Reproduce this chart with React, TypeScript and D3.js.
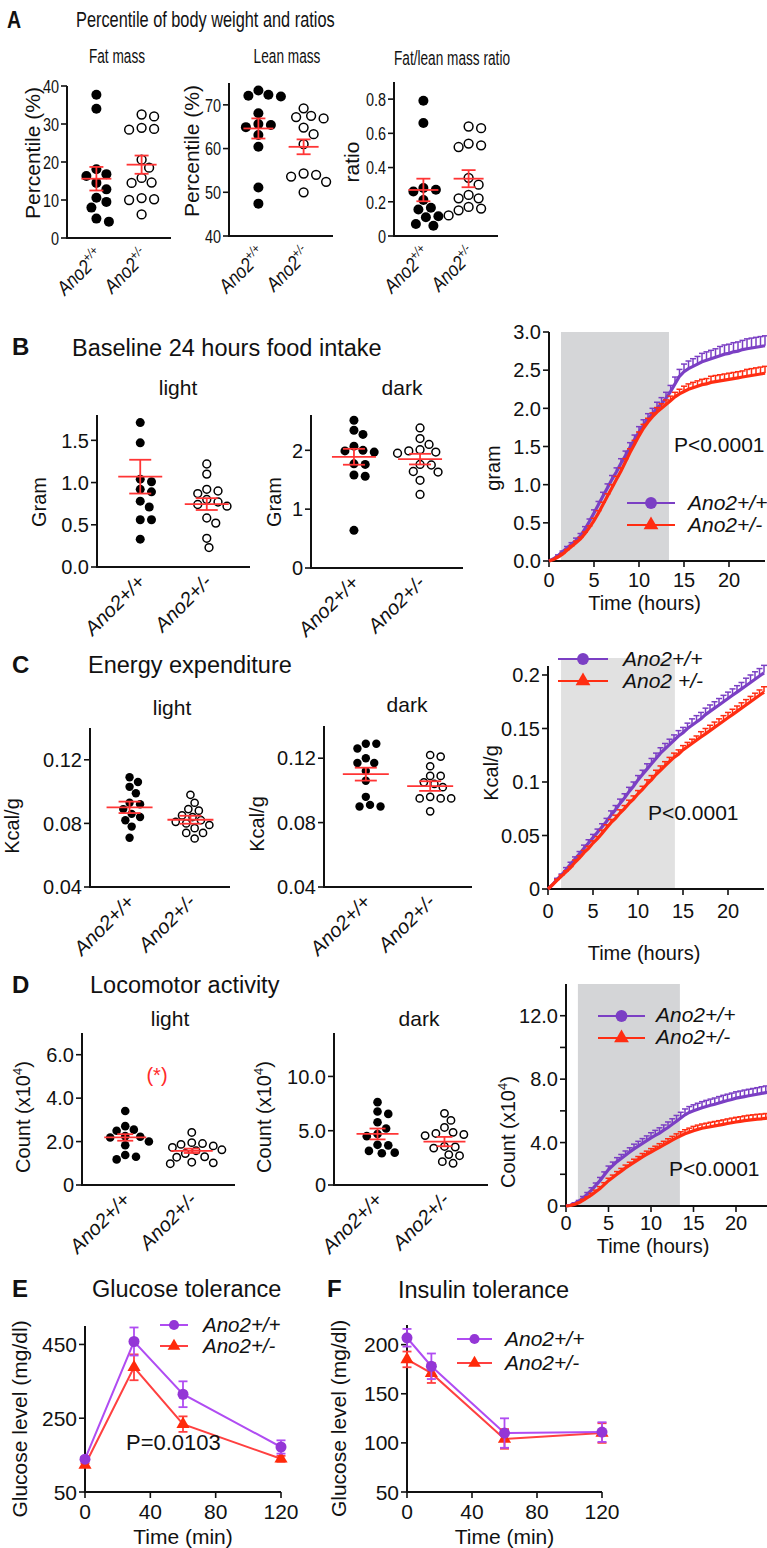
import React, { useEffect, useRef } from 'react';
import * as d3 from 'd3';

const GROUPS = ['Ano2+/+', 'Ano2+/-'];

// A - percentile of body weight
const fatWT = [37.7, 34.0, 18.1, 16.8, 16.3, 14.5, 12.8, 10.6, 9.5, 8.0, 5.1, 4.3];
const fatHet = [32.5, 32.0, 29.0, 28.7, 28.5, 20.6, 18.5, 15.8, 14.6, 14.5, 10.5, 10.2, 10.0, 6.2];
const fatStats = [[15.6, 3.1], [19.3, 2.4]];
const leanWT = [73.3, 72.3, 72.1, 71.9, 68.1, 65.6, 65.4, 64.9, 63.1, 60.4, 51.1, 47.4];
const leanHet = [69.2, 67.5, 67.2, 66.9, 64.8, 63.3, 61.0, 54.3, 54.0, 53.6, 52.4, 50.0];
const leanStats = [[64.6, 2.3], [60.4, 1.7]];
const ratioWT = [0.79, 0.66, 0.28, 0.27, 0.26, 0.21, 0.165, 0.155, 0.115, 0.11, 0.07, 0.06];
const ratioHet = [0.64, 0.63, 0.54, 0.53, 0.52, 0.34, 0.3, 0.24, 0.22, 0.22, 0.17, 0.16, 0.15, 0.12];
const ratioStats = [[0.269, 0.066], [0.335, 0.05]];

// B - food intake
const foodLightWT = [1.71, 1.47, 1.04, 1.01, 0.92, 0.89, 0.78, 0.71, 0.56, 0.56, 0.33];
const foodLightHet = [1.22, 1.1, 0.92, 0.9, 0.87, 0.8, 0.77, 0.74, 0.72, 0.58, 0.52, 0.34, 0.23];
const foodLightStats = [[1.07, 0.2], [0.745, 0.07]];
const foodDarkWT = [2.51, 2.34, 2.27, 2.07, 2.0, 1.99, 1.97, 1.77, 1.76, 1.58, 1.56, 0.64];
const foodDarkHet = [2.38, 2.2, 2.1, 2.01, 1.99, 1.97, 1.95, 1.76, 1.75, 1.64, 1.63, 1.49, 1.25];
const foodDarkStats = [[1.89, 0.135], [1.85, 0.09]];

// C - energy expenditure
const eeLightWT = [0.109, 0.106, 0.103, 0.099, 0.093, 0.092, 0.089, 0.086, 0.084, 0.082, 0.078, 0.071];
const eeLightHet = [0.098, 0.093, 0.089, 0.088, 0.085, 0.084, 0.082, 0.081, 0.08, 0.079, 0.077, 0.074, 0.074, 0.0705];
const eeLightStats = [[0.0901, 0.0036], [0.0823, 0.0025]];
const eeDarkWT = [0.129, 0.129, 0.126, 0.12, 0.117, 0.117, 0.112, 0.106, 0.096, 0.091, 0.09, 0.09];
const eeDarkHet = [0.122, 0.121, 0.115, 0.109, 0.109, 0.105, 0.104, 0.102, 0.096, 0.095, 0.095, 0.095, 0.087];
const eeDarkStats = [[0.1101, 0.004], [0.1027, 0.003]];

// D - locomotor activity (x10^4)
const locoLightWT = [3.41, 2.71, 2.55, 2.5, 2.25, 2.22, 2.19, 2.0, 1.83, 1.38, 1.3, 1.18];
const locoLightHet = [2.42, 1.95, 1.91, 1.87, 1.8, 1.73, 1.62, 1.58, 1.45, 1.3, 1.28, 1.05, 1.02, 0.98];
const locoLightStats = [[2.19, 0.15], [1.575, 0.1]];
const locoDarkWT = [7.63, 6.77, 6.55, 5.78, 5.2, 4.7, 4.5, 3.7, 3.65, 3.14, 2.92, 2.98];
const locoDarkHet = [6.6, 5.95, 5.3, 4.85, 4.75, 4.65, 4.55, 3.55, 3.5, 3.4, 2.8, 2.7, 2.15, 2.0];
const locoDarkStats = [[4.7, 0.5], [4.0, 0.43]];

// cumulative time courses, every half hour 0..24 h
const hours = d3.range(0, 24.5, 0.5);
const foodWT = [0, 0.03, 0.07, 0.12, 0.17, 0.22, 0.27, 0.33, 0.42, 0.52, 0.63, 0.74, 0.85, 0.96, 1.07, 1.17, 1.28, 1.38, 1.49, 1.59, 1.69, 1.78, 1.86, 1.93, 2.0, 2.06, 2.13, 2.22, 2.32, 2.42, 2.48, 2.52, 2.55, 2.58, 2.61, 2.63, 2.65, 2.67, 2.69, 2.71, 2.72, 2.74, 2.75, 2.77, 2.78, 2.79, 2.8, 2.81, 2.82];
const foodHet = [0, 0.02, 0.05, 0.09, 0.14, 0.19, 0.24, 0.29, 0.36, 0.44, 0.53, 0.63, 0.74, 0.85, 0.96, 1.07, 1.18, 1.3, 1.42, 1.53, 1.64, 1.74, 1.82, 1.89, 1.95, 2.0, 2.05, 2.1, 2.15, 2.19, 2.22, 2.25, 2.27, 2.29, 2.31, 2.32, 2.34, 2.35, 2.36, 2.37, 2.38, 2.39, 2.4, 2.41, 2.42, 2.43, 2.44, 2.45, 2.46];
// SEM, hourly
const foodWTsem = [0, 0.01, 0.02, 0.03, 0.03, 0.04, 0.05, 0.05, 0.06, 0.06, 0.07, 0.07, 0.08, 0.08, 0.09, 0.1, 0.1, 0.11, 0.11, 0.12, 0.12, 0.12, 0.13, 0.13, 0.13];
const foodHetSem = [0, 0.01, 0.01, 0.02, 0.02, 0.03, 0.03, 0.04, 0.04, 0.05, 0.05, 0.05, 0.06, 0.06, 0.06, 0.07, 0.07, 0.07, 0.08, 0.08, 0.08, 0.08, 0.09, 0.09, 0.09];
const eeWT = [0, 0.004, 0.009, 0.013, 0.018, 0.023, 0.028, 0.033, 0.038, 0.043, 0.048, 0.053, 0.058, 0.063, 0.069, 0.074, 0.08, 0.085, 0.091, 0.096, 0.102, 0.107, 0.112, 0.117, 0.122, 0.127, 0.131, 0.135, 0.139, 0.143, 0.146, 0.15, 0.153, 0.156, 0.159, 0.163, 0.166, 0.169, 0.172, 0.175, 0.178, 0.181, 0.184, 0.187, 0.19, 0.193, 0.196, 0.199, 0.202];
const eeHet = [0, 0.004, 0.008, 0.012, 0.016, 0.02, 0.025, 0.029, 0.034, 0.038, 0.043, 0.047, 0.052, 0.057, 0.062, 0.066, 0.071, 0.075, 0.08, 0.084, 0.089, 0.093, 0.098, 0.102, 0.107, 0.111, 0.115, 0.119, 0.123, 0.126, 0.13, 0.133, 0.136, 0.139, 0.142, 0.145, 0.148, 0.151, 0.154, 0.157, 0.16, 0.163, 0.166, 0.169, 0.172, 0.175, 0.178, 0.181, 0.184];
const eeWTsem = [0, 0.001, 0.002, 0.002, 0.003, 0.003, 0.003, 0.004, 0.004, 0.004, 0.004, 0.005, 0.005, 0.005, 0.005, 0.005, 0.006, 0.006, 0.006, 0.006, 0.006, 0.006, 0.007, 0.007, 0.007];
const eeHetSem = [0, 0.001, 0.001, 0.002, 0.002, 0.002, 0.003, 0.003, 0.003, 0.003, 0.003, 0.004, 0.004, 0.004, 0.004, 0.004, 0.004, 0.005, 0.005, 0.005, 0.005, 0.005, 0.005, 0.005, 0.005];
const locoWT = [0, 0.05, 0.15, 0.3, 0.5, 0.75, 1.0, 1.3, 1.6, 1.95, 2.3, 2.55, 2.8, 3.0, 3.2, 3.4, 3.6, 3.78, 3.95, 4.12, 4.3, 4.45, 4.6, 4.78, 4.95, 5.15, 5.35, 5.55, 5.75, 5.9, 6.0, 6.1, 6.2, 6.28, 6.35, 6.42, 6.5, 6.58, 6.65, 6.72, 6.8, 6.85, 6.9, 6.95, 7.0, 7.05, 7.1, 7.15, 7.2];
const locoHet = [0, 0.03, 0.1, 0.2, 0.35, 0.52, 0.7, 0.9, 1.1, 1.35, 1.6, 1.8, 2.0, 2.2, 2.4, 2.58, 2.75, 2.92, 3.1, 3.25, 3.4, 3.55, 3.7, 3.85, 4.0, 4.15, 4.3, 4.43, 4.55, 4.65, 4.75, 4.83, 4.9, 4.95, 5.0, 5.05, 5.1, 5.15, 5.2, 5.25, 5.3, 5.34, 5.38, 5.42, 5.45, 5.48, 5.5, 5.53, 5.55];
const locoWTsem = [0, 0.05, 0.1, 0.15, 0.2, 0.22, 0.25, 0.27, 0.3, 0.3, 0.32, 0.33, 0.35, 0.36, 0.37, 0.38, 0.38, 0.39, 0.4, 0.4, 0.4, 0.41, 0.41, 0.42, 0.42];
const locoHetSem = [0, 0.03, 0.06, 0.1, 0.12, 0.15, 0.17, 0.18, 0.2, 0.21, 0.22, 0.23, 0.24, 0.25, 0.26, 0.27, 0.27, 0.28, 0.28, 0.29, 0.29, 0.3, 0.3, 0.3, 0.3];

// dark phase (grey band), hours
const foodDarkPhase = [1.33, 13.33];
const eeDarkPhase = [1.45, 14.1];
const locoDarkPhase = [1.4, 13.4];

// E - glucose tolerance
const gttTime = [0, 30, 60, 120];
const gttWT = [139, 458, 315, 172];
const gttWTsem = [6, 38, 35, 18];
const gttHet = [123, 388, 234, 140];
const gttHetSem = [5, 35, 21, 8];

// F - insulin tolerance
const ittTime = [0, 15, 60, 120];
const ittWT = [207, 178, 110, 111];
const ittWTsem = [9, 13, 15, 10];
const ittHet = [185, 171, 104, 110];
const ittHetSem = [8, 10, 10, 10];

const FONT = '"Liberation Sans", Arial, Helvetica, sans-serif';
const PURPLE = '#7b3fc4';
const RED = '#ff2d12';
const VIOLET = '#b04cf2';
const VIOLET_M = '#9436d6';
const SEM_RED = '#ff3535';

const txt = (g: any, x: number, y: number, s: string, o: any = {}) => {
  let tf = `translate(${x},${y})`;
  if (o.rotate) tf += ` rotate(${o.rotate})`;
  if (o.sx) tf += ` scale(${o.sx},1)`;
  const t = g.append('text')
    .attr('transform', tf)
    .attr('font-family', FONT)
    .attr('font-size', o.size || 20)
    .attr('text-anchor', o.anchor || 'start')
    .attr('fill', o.fill || '#111');
  if (o.weight) t.attr('font-weight', o.weight);
  if (o.italic) t.attr('font-style', 'italic');
  if (o.dy) t.attr('dy', o.dy);
  if (o.sup) {
    t.append('tspan').text(s);
    t.append('tspan').attr('dy', -o.size * 0.4).attr('font-size', o.size * 0.65).text(o.sup);
    if (o.tail) t.append('tspan').attr('dy', o.size * 0.4).text(o.tail);
  } else {
    t.text(s);
  }
  return t;
};

const swarm = (ys: number[], cx: number, r: number) => {
  const placed: { x: number; y: number }[] = [];
  const minD = 2 * r + 0.5;
  ys.slice().sort((a, b) => a - b).forEach((py) => {
    for (let k = 0; k < 80; k++) {
      const off = k === 0 ? 0 : Math.ceil(k / 2) * r * 0.5 * (k % 2 ? 1 : -1);
      const px = cx + off;
      if (placed.every((p) => Math.hypot(p.x - px, p.y - py) >= minD)) {
        placed.push({ x: px, y: py });
        return;
      }
    }
  });
  return placed;
};

const scatter = (svg: any, c: any) => {
  const g = svg.append('g');
  const y = d3.scaleLinear().domain(c.domain).range([c.yBot, c.yTop]);
  const x = d3.scalePoint().domain(GROUPS).range([c.x0, c.x1]).padding(0.65);
  g.append('line').attr('x1', c.x0).attr('x2', c.x0).attr('y1', c.yTop).attr('y2', c.yBot + 1)
    .attr('stroke', '#111').attr('stroke-width', 2);
  g.append('line').attr('x1', c.x0 - 1).attr('x2', c.x1).attr('y1', c.yBot).attr('y2', c.yBot)
    .attr('stroke', '#111').attr('stroke-width', 2);
  c.ticks.forEach((t: number) => {
    g.append('line').attr('x1', c.x0 - 6).attr('x2', c.x0).attr('y1', y(t)).attr('y2', y(t))
      .attr('stroke', '#111').attr('stroke-width', 1.6);
    txt(g, c.x0 - 8, y(t), c.fmt(t), { size: c.fs, anchor: 'end', dy: '0.36em', sx: c.sx });
  });
  [c.wt, c.het].forEach((vals: number[], gi: number) => {
    const cx = x(GROUPS[gi]) as number;
    swarm(vals.map((v) => y(v)), cx, c.r).forEach((p) => {
      g.append('circle').attr('cx', p.x).attr('cy', p.y).attr('r', gi === 0 ? c.r : c.r - 0.6)
        .attr('fill', gi === 0 ? '#000' : '#fff').attr('stroke', '#000')
        .attr('stroke-width', gi === 0 ? 0 : 1.5);
    });
  });
  c.stats.forEach(([m, s]: number[], gi: number) => {
    const cx = x(GROUPS[gi]) as number;
    const st = (sel: any) => sel.attr('stroke', SEM_RED).attr('stroke-width', 1.8);
    st(g.append('line').attr('x1', cx - c.mw).attr('x2', cx + c.mw).attr('y1', y(m)).attr('y2', y(m)));
    st(g.append('line').attr('x1', cx).attr('x2', cx).attr('y1', y(m - s)).attr('y2', y(m + s)));
    [m - s, m + s].forEach((v) =>
      st(g.append('line').attr('x1', cx - c.cw).attr('x2', cx + c.cw).attr('y1', y(v)).attr('y2', y(v))));
  });
  GROUPS.forEach((gr, gi) => {
    const cx = x(gr) as number;
    if (c.supCats) {
      txt(g, cx + 8, c.yBot + 19, 'Ano2', { size: c.cfs, anchor: 'end', rotate: -45, italic: true, sx: c.csx, sup: gi === 0 ? '+/+' : '+/-' });
    } else {
      txt(g, cx + 6, c.yBot + 16, gr, { size: c.cfs, anchor: 'end', rotate: -45, italic: true });
    }
  });
  txt(g, c.titleX, c.titleY, c.title, { size: c.tfs, anchor: 'middle', sx: c.tsx });
  txt(g, c.ylX, c.ylY, c.ylabel, { size: c.yfs || c.fs, anchor: 'middle', rotate: -90, sup: c.ylSup, tail: c.ylTail });
  return { g, x, y };
};

const legend = (g: any, c: any) => {
  const items = [
    { label: c.labels[0], color: c.c1, mark: c.m1 || c.c1, sym: d3.symbolCircle, size: c.cs || 110 },
    { label: c.labels[1], color: c.c2, mark: c.m2 || c.c2, sym: d3.symbolTriangle, size: c.ts || 95 },
  ];
  items.forEach((it, i) => {
    const ly = c.ys[i];
    g.append('line').attr('x1', c.x0).attr('x2', c.x1).attr('y1', ly).attr('y2', ly)
      .attr('stroke', it.color).attr('stroke-width', 2);
    g.append('path').attr('d', d3.symbol(it.sym, it.size)())
      .attr('transform', `translate(${(c.x0 + c.x1) / 2},${ly})`).attr('fill', it.mark);
    txt(g, c.tx, ly + c.tdy, it.label, { size: c.fs, italic: true });
  });
};

const timeCourse = (svg: any, c: any) => {
  const g = svg.append('g');
  const x = d3.scaleLinear().domain([0, 24]).range([c.x0, c.x1]);
  const y = d3.scaleLinear().domain(c.domain).range([c.yBot, c.yTop]);
  g.append('rect').attr('x', x(c.band[0])).attr('width', x(c.band[1]) - x(c.band[0]))
    .attr('y', c.bandTop).attr('height', c.yBot - c.bandTop).attr('fill', c.bandColor);
  g.append('line').attr('x1', c.x0).attr('x2', c.x0).attr('y1', c.yTop).attr('y2', c.yBot + 1)
    .attr('stroke', '#111').attr('stroke-width', 2);
  g.append('line').attr('x1', c.x0 - 1).attr('x2', c.x1).attr('y1', c.yBot).attr('y2', c.yBot)
    .attr('stroke', '#111').attr('stroke-width', 2);
  c.yTicks.forEach((t: number) => {
    g.append('line').attr('x1', c.x0 - 6).attr('x2', c.x0).attr('y1', y(t)).attr('y2', y(t))
      .attr('stroke', '#111').attr('stroke-width', 1.6);
    const lab = c.yFmt(t);
    if (lab) txt(g, c.x0 - 8, y(t), lab, { size: c.fs, anchor: 'end', dy: '0.36em' });
  });
  [0, 5, 10, 15, 20].forEach((t) => {
    g.append('line').attr('x1', x(t)).attr('x2', x(t)).attr('y1', c.yBot).attr('y2', c.yBot + 6)
      .attr('stroke', '#111').attr('stroke-width', 1.6);
    txt(g, x(t), c.yBot + c.xlDy, String(t), { size: c.fs, anchor: 'middle' });
  });
  txt(g, (c.x0 + 680) / 2 + 30, c.yBot + c.xtDy, 'Time (hours)', { size: c.fs, anchor: 'middle' });
  txt(g, c.ylX, c.ylY, c.ylabel, { size: c.fs, anchor: 'middle', rotate: -90, sup: c.ylSup, tail: c.ylTail });

  c.series.forEach((s: any) => {
    const line = d3.line<number>().x((_, i) => x(hours[i])).y((d) => y(d));
    s.vals.forEach((v: number, i: number) => {
      const e = s.sem[Math.floor(i / 2)];
      if (!e) return;
      const px = x(hours[i]);
      g.append('line').attr('x1', px).attr('x2', px).attr('y1', y(v)).attr('y2', y(v + e))
        .attr('stroke', s.color).attr('stroke-width', 1.5);
      g.append('line').attr('x1', px - 3).attr('x2', px + 3).attr('y1', y(v + e)).attr('y2', y(v + e))
        .attr('stroke', s.color).attr('stroke-width', 1.5);
    });
    g.append('path').datum(s.vals).attr('d', line).attr('fill', 'none')
      .attr('stroke', s.color).attr('stroke-width', 3.2);
  });
  legend(g, c.legend);
  txt(g, c.pX, c.pY, 'P<0.0001', { size: 21 });
};

const tolerance = (svg: any, c: any) => {
  const g = svg.append('g');
  const x = d3.scaleLinear().domain([0, 120]).range([c.x0, c.x1]);
  const y = d3.scaleLinear().domain(c.domain).range([c.yBot, c.yTop]);
  g.append('line').attr('x1', c.x0).attr('x2', c.x0).attr('y1', c.yTop).attr('y2', c.yBot + 1)
    .attr('stroke', '#111').attr('stroke-width', 2);
  g.append('line').attr('x1', c.x0 - 1).attr('x2', c.x1).attr('y1', c.yBot).attr('y2', c.yBot)
    .attr('stroke', '#111').attr('stroke-width', 2);
  c.yTicks.forEach((t: number) => {
    g.append('line').attr('x1', c.x0 - 6).attr('x2', c.x0).attr('y1', y(t)).attr('y2', y(t))
      .attr('stroke', '#111').attr('stroke-width', 1.6);
    txt(g, c.x0 - 8, y(t), String(t), { size: 21, anchor: 'end', dy: '0.36em' });
  });
  [0, 40, 80, 120].forEach((t) => {
    g.append('line').attr('x1', x(t)).attr('x2', x(t)).attr('y1', c.yBot).attr('y2', c.yBot + 6)
      .attr('stroke', '#111').attr('stroke-width', 1.6);
    txt(g, x(t), c.yBot + 27, String(t), { size: 21, anchor: 'middle' });
  });
  txt(g, (c.x0 + c.x1) / 2, c.yBot + 52, 'Time (min)', { size: 21, anchor: 'middle' });
  txt(g, c.ylX, (c.yTop + c.yBot) / 2 + 10, 'Glucose level (mg/dl)', { size: 21, anchor: 'middle', rotate: -90 });
  const series = [
    { vals: c.het, sem: c.hetSem, line: '#ff4040', mark: '#ff2a0a', sym: d3.symbolTriangle, size: 75 },
    { vals: c.wt, sem: c.wtSem, line: VIOLET, mark: VIOLET_M, sym: d3.symbolCircle, size: 95 },
  ];
  series.forEach((s) => {
    const line = d3.line<number>().x((_, i) => x(c.time[i])).y((d) => y(d));
    g.append('path').datum(s.vals).attr('d', line).attr('fill', 'none')
      .attr('stroke', s.line).attr('stroke-width', 2);
  });
  series.forEach((s) => {
    s.vals.forEach((v: number, i: number) => {
      const px = x(c.time[i]);
      const e = s.sem[i];
      const st = (sel: any) => sel.attr('stroke', s.line).attr('stroke-width', 1.8);
      st(g.append('line').attr('x1', px).attr('x2', px).attr('y1', y(v - e)).attr('y2', y(v + e)));
      [v - e, v + e].forEach((b) =>
        st(g.append('line').attr('x1', px - 4.5).attr('x2', px + 4.5).attr('y1', y(b)).attr('y2', y(b))));
      g.append('path').attr('d', d3.symbol(s.sym, s.size)())
        .attr('transform', `translate(${px},${y(v)})`).attr('fill', s.mark);
    });
  });
  legend(g, c.legend);
  return g;
};

const App = () => {
  const svgRef = useRef<SVGSVGElement>(null);

  useEffect(() => {
    const svg = d3.select(svgRef.current);
    svg.selectAll('*').remove();
    svg.append('rect').attr('width', 767).attr('height', 1548).attr('fill', '#fff');

    // ---------- A ----------
    txt(svg, 7, 28, 'A', { size: 23, weight: 'bold', sx: 0.85 });
    txt(svg, 76, 27, 'Percentile of body weight and ratios', { size: 21.5, sx: 0.76 });
    const aCommon = { sx: 0.76, fs: 19, tfs: 19.5, tsx: 0.7, cfs: 20, csx: 0.85, yfs: 21, r: 5, mw: 15, cw: 7, supCats: true };
    scatter(svg, {
      ...aCommon, x0: 67, x1: 171, yTop: 86, yBot: 238, domain: [0, 40], ticks: [0, 10, 20, 30, 40],
      fmt: String, wt: fatWT, het: fatHet, stats: fatStats,
      title: 'Fat mass', titleX: 117, titleY: 63, ylabel: 'Percentile (%)', ylX: 40, ylY: 153,
    });
    scatter(svg, {
      ...aCommon, x0: 229, x1: 333, yTop: 83, yBot: 236, domain: [40, 75], ticks: [40, 50, 60, 70],
      fmt: String, wt: leanWT, het: leanHet, stats: leanStats,
      title: 'Lean mass', titleX: 287, titleY: 63, ylabel: 'Percentile (%)', ylX: 199, ylY: 151,
    });
    scatter(svg, {
      ...aCommon, x0: 394, x1: 498, yTop: 82, yBot: 236, domain: [0, 0.9], ticks: [0, 0.2, 0.4, 0.6, 0.8],
      fmt: String, wt: ratioWT, het: ratioHet, stats: ratioStats,
      title: 'Fat/lean mass ratio', titleX: 452, titleY: 65, ylabel: 'ratio', ylX: 359, ylY: 162,
    });

    // ---------- B ----------
    txt(svg, 12, 355, 'B', { size: 24, weight: 'bold' });
    txt(svg, 72, 356, 'Baseline 24 hours food intake', { size: 23.5 });
    const sCommon = { fs: 20, tfs: 21, cfs: 20, r: 4.5, mw: 22, cw: 11 };
    scatter(svg, {
      ...sCommon, x0: 97, x1: 250, yTop: 415, yBot: 567, domain: [0, 1.8], ticks: [0, 0.5, 1, 1.5],
      fmt: d3.format('.1f'), wt: foodLightWT, het: foodLightHet, stats: foodLightStats,
      title: 'light', titleX: 178, titleY: 395, ylabel: 'Gram', ylX: 46, ylY: 502,
    });
    scatter(svg, {
      ...sCommon, x0: 311, x1: 463, yTop: 415, yBot: 568, domain: [0, 2.6], ticks: [0, 1, 2],
      fmt: String, wt: foodDarkWT, het: foodDarkHet, stats: foodDarkStats,
      title: 'dark', titleX: 402, titleY: 395, ylabel: 'Gram', ylX: 281, ylY: 502,
    });
    timeCourse(svg, {
      x0: 549, x1: 765, yTop: 332, yBot: 561, domain: [0, 3], band: foodDarkPhase, bandTop: 332,
      bandColor: '#d5d6d8', yTicks: [0, 0.5, 1, 1.5, 2, 2.5, 3], yFmt: d3.format('.1f'), fs: 20,
      xlDy: 26, xtDy: 49, ylabel: 'gram', ylX: 500, ylY: 468,
      series: [
        { vals: foodWT, sem: foodWTsem, color: PURPLE },
        { vals: foodHet, sem: foodHetSem, color: RED },
      ],
      legend: { labels: ['Ano2+/+', 'Ano2+/-'], c1: PURPLE, c2: RED, x0: 627, x1: 675, ys: [503, 525], tx: 688, tdy: 7, fs: 21 },
      pX: 674, pY: 452,
    });

    // ---------- C ----------
    txt(svg, 12, 673, 'C', { size: 24, weight: 'bold' });
    txt(svg, 88, 673, 'Energy expenditure', { size: 23.5 });
    const cCommon = { fs: 20, tfs: 21, cfs: 20, r: 4.2, mw: 23, cw: 11 };
    scatter(svg, {
      ...cCommon, x0: 90, x1: 230, yTop: 728, yBot: 887, domain: [0.04, 0.14], ticks: [0.04, 0.08, 0.12],
      fmt: String, wt: eeLightWT, het: eeLightHet, stats: eeLightStats,
      title: 'light', titleX: 172, titleY: 715, ylabel: 'Kcal/g', ylX: 19, ylY: 826,
    });
    scatter(svg, {
      ...cCommon, x0: 324, x1: 472, yTop: 726, yBot: 887, domain: [0.04, 0.14], ticks: [0.04, 0.08, 0.12],
      fmt: String, wt: eeDarkWT, het: eeDarkHet, stats: eeDarkStats,
      title: 'dark', titleX: 407, titleY: 712, ylabel: 'Kcal/g', ylX: 264, ylY: 824,
    });
    timeCourse(svg, {
      x0: 548, x1: 764, yTop: 666, yBot: 889, domain: [0, 0.2084], band: eeDarkPhase, bandTop: 658,
      bandColor: '#e1e1e1', yTicks: [0, 0.05, 0.1, 0.15, 0.2], yFmt: String, fs: 20,
      xlDy: 29, xtDy: 71, ylabel: 'Kcal/g', ylX: 498, ylY: 773,
      series: [
        { vals: eeWT, sem: eeWTsem, color: PURPLE },
        { vals: eeHet, sem: eeHetSem, color: RED },
      ],
      legend: { labels: ['Ano2+/+', 'Ano2 +/-'], c1: PURPLE, c2: RED, x0: 558, x1: 608, ys: [659, 681], tx: 623, tdy: 7, fs: 21 },
      pX: 648, pY: 820,
    });

    // ---------- D ----------
    txt(svg, 12, 993, 'D', { size: 24, weight: 'bold' });
    txt(svg, 90, 993, 'Locomotor activity', { size: 23.5 });
    const dCommon = { fs: 20, tfs: 21, cfs: 20, r: 4.3, mw: 21, cw: 8 };
    const locoFmt = (d: number) => (d === 0 ? '0' : d.toFixed(1));
    scatter(svg, {
      ...dCommon, x0: 82, x1: 235, yTop: 1033, yBot: 1185, domain: [0, 7], ticks: [0, 2, 4, 6],
      fmt: locoFmt, wt: locoLightWT, het: locoLightHet, stats: locoLightStats,
      title: 'light', titleX: 170, titleY: 1026, ylabel: 'Count (x10', ylSup: '4', ylTail: ')', ylX: 30, ylY: 1117,
    });
    txt(svg, 157, 1082, '(*)', { size: 20, anchor: 'middle', fill: '#ff2a2a' });
    scatter(svg, {
      ...dCommon, x0: 334, x1: 488, yTop: 1033, yBot: 1185, domain: [0, 14], ticks: [0, 5, 10],
      fmt: locoFmt, wt: locoDarkWT, het: locoDarkHet, stats: locoDarkStats,
      title: 'dark', titleX: 419, titleY: 1026, ylabel: 'Count (x10', ylSup: '4', ylTail: ')', ylX: 271, ylY: 1117,
    });
    timeCourse(svg, {
      x0: 566, x1: 770, yTop: 984, yBot: 1206, domain: [0, 14], band: locoDarkPhase, bandTop: 984,
      bandColor: '#d4d5d7', yTicks: [0, 2, 4, 6, 8, 10, 12], yFmt: (d: number) => (d === 0 ? '0' : d % 4 === 0 ? d.toFixed(1) : ''),
      fs: 20, xlDy: 24, xtDy: 47, ylabel: 'Count (x10', ylSup: '4', ylTail: ')', ylX: 515, ylY: 1132,
      series: [
        { vals: locoWT, sem: locoWTsem, color: PURPLE },
        { vals: locoHet, sem: locoHetSem, color: RED },
      ],
      legend: { labels: ['Ano2+/+', 'Ano2+/-'], c1: PURPLE, c2: RED, x0: 598, x1: 645, ys: [1016, 1038], tx: 656, tdy: 6, fs: 21 },
      pX: 669, pY: 1176,
    });

    // ---------- E ----------
    txt(svg, 12, 1297, 'E', { size: 24, weight: 'bold' });
    txt(svg, 92, 1297, 'Glucose tolerance', { size: 23.5 });
    tolerance(svg, {
      x0: 85, x1: 281, yTop: 1326, yBot: 1492, domain: [50, 500], yTicks: [50, 250, 450],
      time: gttTime, wt: gttWT, wtSem: gttWTsem, het: gttHet, hetSem: gttHetSem, ylX: 27,
      legend: { labels: ['Ano2+/+', 'Ano2+/-'], c1: VIOLET, m1: VIOLET_M, c2: '#ff4040', m2: '#ff2a0a', x0: 160, x1: 188, ys: [1325, 1346], tx: 203, tdy: 7, fs: 20.5, cs: 80, ts: 70 },
    });
    txt(svg, 126, 1450, 'P=0.0103', { size: 22 });

    // ---------- F ----------
    txt(svg, 327, 1297, 'F', { size: 24, weight: 'bold' });
    txt(svg, 398, 1298, 'Insulin tolerance', { size: 23.5 });
    tolerance(svg, {
      x0: 407, x1: 602, yTop: 1325, yBot: 1492, domain: [50, 220], yTicks: [50, 100, 150, 200],
      time: ittTime, wt: ittWT, wtSem: ittWTsem, het: ittHet, hetSem: ittHetSem, ylX: 346,
      legend: { labels: ['Ano2+/+', 'Ano2+/-'], c1: VIOLET, m1: VIOLET_M, c2: '#ff4040', m2: '#ff2a0a', x0: 457, x1: 492, ys: [1339, 1363], tx: 505, tdy: 7, fs: 21, cs: 80, ts: 70 },
    });
  }, []);

  return (
    <svg
      ref={svgRef}
      width={767}
      height={1548}
      style={{ position: 'absolute', left: 0, top: 0, display: 'block' }}
    />
  );
};

export default App;
